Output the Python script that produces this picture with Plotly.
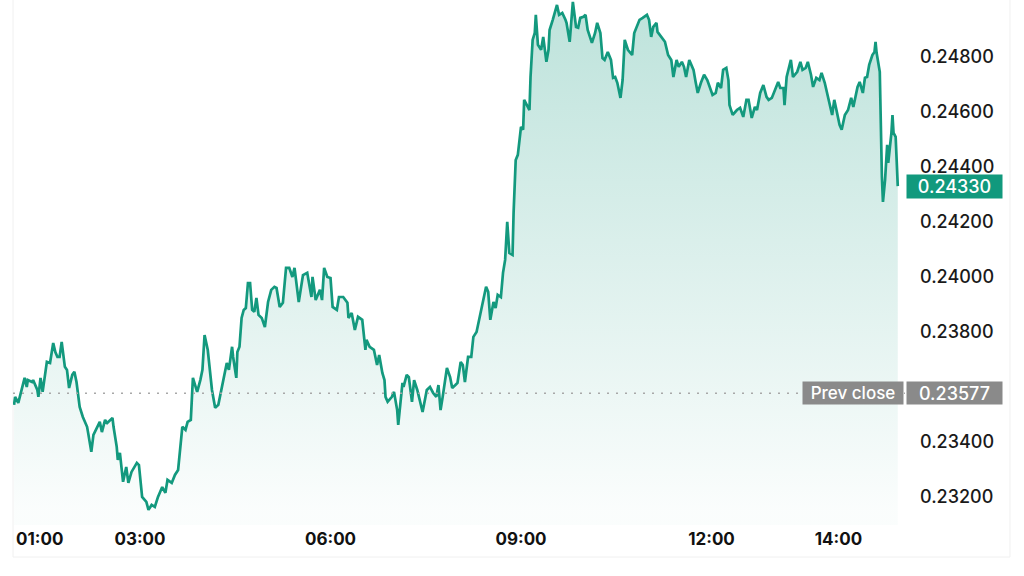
import pandas as pd
import plotly.graph_objects as go

# ---------------- data ----------------
session_date = "2024-05-20"
session_start = "01:00"

# minutes elapsed since 01:00
minutes = [
    1, 2, 5, 9, 11, 13, 14, 18, 19, 23, 24, 26, 28, 32, 35, 38, 40, 42, 44, 46,
    49, 51, 53, 56, 58, 60, 63, 66, 70, 71, 74, 76, 79, 82, 84, 87, 89, 94, 95, 98,
    99, 101, 104, 107, 109, 112, 117, 119, 122, 126, 128, 131, 134, 137, 141, 144, 146, 150, 153, 156,
    160, 163, 165, 168, 170, 174, 177, 179, 181, 184, 188, 191, 194, 198, 200, 202, 204, 207, 208, 211,
    212, 214, 216, 218, 220, 222, 224, 226, 228, 230, 232, 235, 238, 241, 244, 247, 249, 252, 255, 258,
    261, 264, 266, 270, 274, 278, 282, 283, 286, 290, 292, 294, 297, 300, 302, 306, 308, 312, 316, 317,
    320, 323, 326, 330, 333, 334, 337, 341, 344, 346, 349, 351, 352, 354, 358, 360, 363, 364, 368, 369,
    372, 374, 377, 379, 382, 385, 387, 391, 394, 397, 400, 402, 404, 406, 410, 413, 415, 418, 420, 423,
    425, 427, 430, 433, 435, 438, 441, 444, 447, 449, 451, 454, 456, 458, 461, 463, 465, 467, 469, 472,
    473, 475, 477, 480, 482, 483, 486, 488, 489, 491, 493, 494, 496, 499, 501, 504, 506, 507, 510, 512,
    514, 516, 519, 522, 523, 526, 528, 529, 532, 534, 536, 539, 541, 543, 547, 550, 552, 555, 557, 559,
    562, 565, 567, 569, 571, 574, 576, 578, 581, 585, 587, 590, 592, 595, 599, 601, 603, 605, 608, 609,
    613, 616, 619, 622, 624, 627, 629, 632, 634, 636, 639, 643, 645, 647, 650, 653, 656, 659, 661, 664,
    666, 669, 671, 674, 676, 677, 680, 684, 687, 690, 693, 695, 698, 701, 703, 706, 709, 712, 714, 717,
    720, 723, 725, 728, 729, 731, 735, 737, 741, 744, 746, 749, 751, 754, 756, 759, 762, 764, 767, 770,
    774, 776, 779, 781, 783, 786, 789, 792, 794, 798, 800, 803, 805, 807, 809, 812, 814, 815, 816, 819,
    821, 822, 824, 826, 827, 830, 831, 832, 834, 836,
]

prices = [
    0.23535, 0.23564, 0.23542, 0.23607, 0.23633, 0.23600, 0.23625, 0.23618, 0.23625, 0.23589,
    0.23564, 0.23633, 0.23582, 0.23691, 0.23687, 0.23760, 0.23727, 0.23709, 0.23709, 0.23764,
    0.23673, 0.23662, 0.23596, 0.23644, 0.23655, 0.23618, 0.23527, 0.23491, 0.23455, 0.23433,
    0.23364, 0.23426, 0.23451, 0.23473, 0.23436, 0.23480, 0.23469, 0.23487, 0.23455, 0.23382,
    0.23335, 0.23360, 0.23255, 0.23309, 0.23251, 0.23291, 0.23324, 0.23316, 0.23200, 0.23182,
    0.23153, 0.23171, 0.23164, 0.23200, 0.23236, 0.23215, 0.23262, 0.23251, 0.23280, 0.23298,
    0.23455, 0.23444, 0.23473, 0.23480, 0.23633, 0.23582, 0.23625, 0.23662, 0.23789, 0.23735,
    0.23589, 0.23524, 0.23535, 0.23615, 0.23644, 0.23687, 0.23662, 0.23746, 0.23709, 0.23633,
    0.23727, 0.23746, 0.23851, 0.23880, 0.23887, 0.23978, 0.23978, 0.23880, 0.23873, 0.23924,
    0.23862, 0.23851, 0.23818, 0.23909, 0.23953, 0.23964, 0.23960, 0.23891, 0.23906, 0.24033,
    0.24033, 0.24000, 0.24033, 0.23909, 0.24007, 0.24015, 0.23927, 0.24000, 0.23916, 0.23953,
    0.23916, 0.24033, 0.24000, 0.23996, 0.23891, 0.23880, 0.23927, 0.23927, 0.23906, 0.23851,
    0.23869, 0.23807, 0.23855, 0.23844, 0.23735, 0.23771, 0.23746, 0.23735, 0.23680, 0.23716,
    0.23651, 0.23625, 0.23564, 0.23546, 0.23564, 0.23582, 0.23516, 0.23462, 0.23615, 0.23600,
    0.23644, 0.23636, 0.23546, 0.23625, 0.23589, 0.23542, 0.23509, 0.23589, 0.23600, 0.23578,
    0.23564, 0.23607, 0.23516, 0.23564, 0.23669, 0.23636, 0.23596, 0.23607, 0.23615, 0.23691,
    0.23680, 0.23618, 0.23709, 0.23709, 0.23782, 0.23800, 0.23855, 0.23916, 0.23964, 0.23946,
    0.23844, 0.23909, 0.23887, 0.23935, 0.23927, 0.24015, 0.24062, 0.24200, 0.24087, 0.24080,
    0.24233, 0.24425, 0.24444, 0.24546, 0.24535, 0.24644, 0.24618, 0.24607, 0.24727, 0.24862,
    0.24887, 0.24953, 0.24844, 0.24826, 0.24873, 0.24782, 0.24826, 0.24898, 0.24935, 0.24960,
    0.24989, 0.24953, 0.24960, 0.24935, 0.24924, 0.24855, 0.24935, 0.25000, 0.24909, 0.24906,
    0.24942, 0.24946, 0.24953, 0.24898, 0.24851, 0.24887, 0.24924, 0.24887, 0.24796, 0.24789,
    0.24818, 0.24789, 0.24724, 0.24727, 0.24706, 0.24651, 0.24716, 0.24862, 0.24826, 0.24807,
    0.24887, 0.24916, 0.24935, 0.24942, 0.24953, 0.24935, 0.24873, 0.24909, 0.24924, 0.24891,
    0.24869, 0.24855, 0.24807, 0.24789, 0.24727, 0.24789, 0.24764, 0.24782, 0.24764, 0.24727,
    0.24789, 0.24753, 0.24709, 0.24669, 0.24706, 0.24735, 0.24716, 0.24680, 0.24662, 0.24669,
    0.24706, 0.24687, 0.24753, 0.24760, 0.24716, 0.24625, 0.24589, 0.24607, 0.24615, 0.24582,
    0.24644, 0.24644, 0.24578, 0.24618, 0.24607, 0.24669, 0.24698, 0.24655, 0.24644, 0.24651,
    0.24680, 0.24709, 0.24687, 0.24687, 0.24625, 0.24727, 0.24789, 0.24727, 0.24746, 0.24782,
    0.24753, 0.24760, 0.24782, 0.24735, 0.24691, 0.24724, 0.24716, 0.24742, 0.24706, 0.24655,
    0.24589, 0.24644, 0.24582, 0.24553, 0.24535, 0.24589, 0.24607, 0.24651, 0.24618, 0.24691,
    0.24709, 0.24669, 0.24724, 0.24727, 0.24771, 0.24807, 0.24818, 0.24855, 0.24815, 0.24746,
    0.24364, 0.24273, 0.24353, 0.24480, 0.24415, 0.24524, 0.24589, 0.24524, 0.24509, 0.24330,
]

prev_close = 0.23577
last_price = prices[-1]

x_tick_labels = ["03:00", "06:00", "09:00", "12:00", "14:00"]
# the 0.23600 level sits behind the previous-close tag in the reference
y_tick_values = [0.232, 0.234, 0.238, 0.240, 0.242, 0.244, 0.246, 0.248]
x_range_end = "15:02:50"
y_range = [0.23098, 0.25007]

# ---------------- styling ----------------
TEAL = "#13997e"
TAG_GREEN = "#11997d"
GREY_TAG = "#8a8a8a"
FONT = "Inter, 'Noto Sans', sans-serif"

base = pd.Timestamp(f"{session_date} {session_start}")
times = [base + pd.Timedelta(minutes=m) for m in minutes]
tickvals = [pd.Timestamp(f"{session_date} {t}") for t in x_tick_labels]
ticktext_y = [f"{v:.5f}" for v in y_tick_values]

fig = go.Figure()
fig.add_trace(go.Scatter(
    x=times, y=prices, mode="lines",
    line=dict(color=TEAL, width=2.7),
    fill="tozeroy",
    fillgradient=dict(
        type="vertical",
        start=y_range[0] + 0.0006,
        stop=y_range[1],
        colorscale=[[0, "rgba(19,153,126,0.02)"], [1, "rgba(19,153,126,0.28)"]],
    ),
    hoverinfo="skip",
    showlegend=False,
))

# previous-close dotted reference line
fig.add_shape(type="line", xref="paper", yref="y",
              x0=0, x1=1, y0=prev_close, y1=prev_close,
              line=dict(color="#a8a8a8", width=1.5, dash="2px,7px"), layer="above")

# faint container border
fig.add_shape(type="rect", xref="paper", yref="paper",
              x0=0, x1=1.1177, y0=-0.061, y1=1.02,
              line=dict(color="#f0f0f0", width=1), layer="below")

# first time label (kept inside the plot's left edge)
fig.add_annotation(x=base, y=-0.0267, xref="x", yref="paper",
                   text="01:00", showarrow=False, xanchor="left", yanchor="middle",
                   xshift=1, font=dict(family=FONT, size=17, color="#111111", weight=700))

# price tags
fig.add_annotation(x=1, y=prev_close, xref="paper", yref="y", text="Prev close",
                   showarrow=False, xanchor="right", yanchor="middle", xshift=-1,
                   bgcolor=GREY_TAG, width=96, height=18, borderpad=2, align="center",
                   font=dict(family=FONT, size=17, color="white", weight=500))
fig.add_annotation(x=1, y=prev_close, xref="paper", yref="y", text=f"{prev_close:.5f}",
                   showarrow=False, xanchor="left", yanchor="middle", xshift=1,
                   bgcolor=GREY_TAG, width=91, height=18, borderpad=2, align="center",
                   font=dict(family=FONT, size=18, color="white", weight=500))
fig.add_annotation(x=1, y=last_price, xref="paper", yref="y", text=f"{last_price:.5f}",
                   showarrow=False, xanchor="left", yanchor="middle", xshift=1,
                   bgcolor=TAG_GREEN, width=91, height=19, borderpad=2, align="center",
                   font=dict(family=FONT, size=18, color="white", weight=500))

fig.update_layout(
    width=1024, height=576,
    margin=dict(l=13, r=119, t=0, b=51),
    paper_bgcolor="white", plot_bgcolor="white",
    showlegend=False,
    xaxis=dict(
        range=[base, pd.Timestamp(f"{session_date} {x_range_end}")],
        tickvals=tickvals, ticktext=x_tick_labels,
        showgrid=False, zeroline=False, showline=False, ticks="",
        ticklabelstandoff=2,
        tickfont=dict(family=FONT, size=17, color="#111111", weight=700),
    ),
    yaxis=dict(
        range=y_range, side="right",
        tickvals=y_tick_values, ticktext=ticktext_y,
        showgrid=False, zeroline=False, showline=False, ticks="",
        ticklabelstandoff=14,
        tickfont=dict(family=FONT, size=18, color="#1a1a1a", weight=500),
    ),
)

fig.write_html("out.html", config={"displayModeBar": False},
               post_script="document.body.style.margin='0';")
